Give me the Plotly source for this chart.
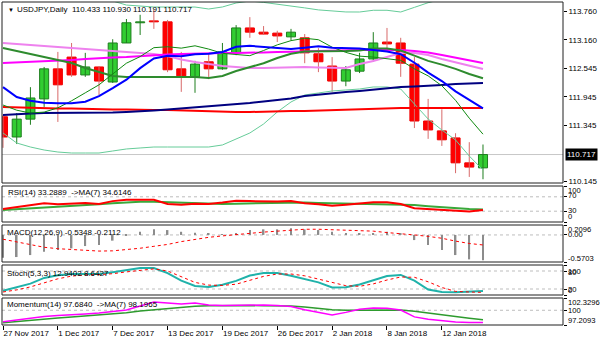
import plotly.graph_objects as go

# ---------------- data ----------------
bars = list(range(36))
tick_bars = [0, 4, 8, 12, 16, 20, 24, 28, 32]
tick_labels = ["27 Nov 2017", "1 Dec 2017", "7 Dec 2017", "13 Dec 2017", "19 Dec 2017",
               "26 Dec 2017", "2 Jan 2018", "8 Jan 2018", "12 Jan 2018"]

opens = [111.52, 111.09, 111.47, 111.90, 112.54, 112.79, 112.41, 112.58, 112.26, 113.09,
         113.52, 113.56, 113.54, 112.54, 112.37, 112.69, 112.54, 112.88, 113.41, 113.32,
         113.30, 113.22, 113.20, 112.86, 112.60, 112.28, 112.49, 112.75, 113.11, 113.09,
         112.64, 111.43, 111.22, 111.07, 110.54, 110.433]
highs = [111.56, 111.60, 112.15, 112.58, 112.90, 113.09, 112.88, 112.60, 113.17, 113.60,
         113.69, 113.79, 113.58, 112.90, 112.71, 112.86, 113.09, 113.47, 113.64, 113.45,
         113.35, 113.39, 113.28, 112.98, 112.79, 112.60, 112.88, 113.32, 113.41, 113.20,
         112.79, 111.90, 111.68, 111.17, 110.98, 110.930]
lows = [110.86, 110.94, 111.35, 111.73, 111.41, 112.37, 112.37, 111.98, 112.24, 113.09,
        113.26, 113.39, 112.47, 112.05, 112.03, 112.32, 112.52, 112.83, 113.20, 113.26,
        113.11, 113.15, 112.66, 112.47, 112.05, 112.17, 112.45, 112.69, 112.94, 112.37,
        111.28, 111.05, 110.90, 110.32, 110.24, 110.191]
closes = [111.09, 111.47, 111.92, 112.54, 112.20, 112.41, 112.58, 112.28, 113.09, 113.52,
          113.54, 113.54, 112.52, 112.39, 112.64, 112.54, 112.90, 113.41, 113.32, 113.28,
          113.24, 113.32, 112.88, 112.69, 112.28, 112.52, 112.75, 113.09, 113.07, 112.66,
          111.43, 111.24, 111.03, 110.54, 110.45, 110.717]

ma_fast = [111.77, 111.66, 111.60, 111.62, 111.71, 111.86, 112.03, 112.20, 112.43, 112.66,
           112.80, 112.99, 113.01, 112.98, 113.03, 112.96, 112.87, 112.85, 112.82, 112.93,
           113.05, 113.14, 113.19, 113.16, 113.00, 112.89, 112.81, 112.79, 112.75, 112.72,
           112.54, 112.39, 112.18, 111.87, 111.49, 111.15]
ma_blue = [112.15, 111.94, 111.86, 111.82, 111.81, 111.81, 111.84, 111.96, 112.13, 112.31,
           112.555, 112.76, 112.82, 112.81, 112.85, 112.86, 112.90, 113.01, 113.03, 113.01,
           112.98, 112.96, 112.99, 113.02, 112.99, 112.98, 112.97, 112.94, 112.91, 112.85,
           112.67, 112.46, 112.28, 112.06, 111.88, 111.70]
ma_magenta = [112.664, 112.675, 112.686, 112.707, 112.717, 112.728, 112.749, 112.771, 112.781, 112.792,
              112.813, 112.834, 112.845, 112.856, 112.866, 112.877, 112.877, 112.877, 112.877, 112.888,
              112.898, 112.898, 112.909, 112.920, 112.930, 112.941, 112.941, 112.941, 112.941, 112.941,
              112.920, 112.888, 112.834, 112.781, 112.728, 112.664]
ma_violet = [113.090, 113.069, 113.047, 113.026, 113.005, 112.983, 112.962, 112.941, 112.920, 112.898,
             112.877, 112.856, 112.813, 112.739, 112.686, 112.643, 112.600, 112.579, 112.558, 112.558,
             112.569, 112.579, 112.579, 112.569, 112.558, 112.558, 112.643, 112.707, 112.792, 112.877,
             112.877, 112.834, 112.749, 112.675, 112.600, 112.537]
ma_red = [111.728, 111.717, 111.707, 111.707, 111.696, 111.696, 111.686, 111.686, 111.675, 111.675,
          111.664, 111.664, 111.664, 111.654, 111.643, 111.643, 111.632, 111.622, 111.622, 111.632,
          111.632, 111.643, 111.643, 111.654, 111.664, 111.664, 111.686, 111.686, 111.707, 111.707,
          111.707, 111.707, 111.707, 111.707, 111.707, 111.707]
ma_navy = [111.558, 111.579, 111.590, 111.601, 111.601, 111.601, 111.601, 111.601, 111.611, 111.622,
           111.632, 111.654, 111.675, 111.696, 111.717, 111.739, 111.771, 111.792, 111.813, 111.845,
           111.877, 111.909, 111.962, 111.994, 112.026, 112.047, 112.069, 112.100, 112.132, 112.154,
           112.164, 112.175, 112.196, 112.217, 112.228, 112.239]
bb_mid = [112.983, 112.920, 112.856, 112.792, 112.728, 112.664, 112.558, 112.473, 112.388, 112.366,
          112.366, 112.366, 112.366, 112.366, 112.366, 112.345, 112.388, 112.494, 112.579, 112.66,
          112.77, 112.86, 112.91, 112.91, 112.92, 112.92, 112.93, 112.97, 112.97, 112.93,
          112.82, 112.71, 112.63, 112.54, 112.43, 112.34]
bb_low = [111.175, 110.962, 110.877, 110.813, 110.770, 110.749, 110.749, 110.749, 110.792, 110.835,
          110.856, 110.877, 110.877, 110.877, 110.877, 110.877, 110.920, 111.047, 111.175, 111.366,
          111.622, 111.835, 111.983, 112.026, 112.069, 112.090, 112.111, 112.154, 112.154, 112.111,
          111.792, 111.473, 111.239, 111.026, 110.685, 110.388]
bb_up = [114.791, 114.878, 114.835, 114.771, 114.686, 114.579, 114.367, 114.197, 113.984, 113.897,
         113.876, 113.855, 113.855, 113.855, 113.855, 113.813, 113.856, 113.941, 113.983, 113.954,
         113.918, 113.885, 113.837, 113.794, 113.771, 113.750, 113.749, 113.786, 113.786, 113.749,
         113.848, 113.947, 114.021, 114.054, 114.175, 114.292]

rsi = [36, 41, 46, 52, 49, 51, 53, 50, 58, 62, 62, 62, 50, 48, 51, 50, 54, 59, 58, 57,
       57, 58, 52, 49, 45, 48, 51, 55, 55, 50, 38, 36, 34, 30, 29, 33.2889]
rsi_ma = [33, 35, 37, 40, 42, 44, 46, 49, 52, 55, 56, 56, 55, 53, 51, 50, 50, 51, 52, 53,
          54, 55, 54, 53, 52, 51, 50, 50, 50, 49, 47, 44, 41, 38, 36, 34.6146]

macd = [-0.48, -0.466, -0.424, -0.354, -0.318, -0.283, -0.234, -0.213, -0.12, -0.01,
        0.067, 0.118, 0.103, 0.067, 0.046, 0.02, 0.01, 0.03, 0.103, 0.118,
        0.118, 0.139, 0.118, 0.103, 0.067, 0.04, 0.03, 0.04, 0.067, 0.02,
        -0.108, -0.213, -0.318, -0.424, -0.515, -0.5348]
macd_sig = [-0.09, -0.15, -0.21, -0.26, -0.29, -0.31, -0.33, -0.34, -0.335, -0.31,
            -0.28, -0.24, -0.20, -0.14, -0.09, -0.05, -0.02, 0.01, 0.03, 0.06,
            0.08, 0.10, 0.12, 0.12, 0.11, 0.10, 0.09, 0.08, 0.05, 0.03,
            0.0, -0.03, -0.07, -0.13, -0.18, -0.2112]

stoch = [14, 25, 38, 57, 66, 70, 70, 70, 76, 84, 90, 90, 73, 48, 30, 27, 34, 47, 65, 73,
         73, 64, 54, 42, 25, 26, 35, 50, 63, 67, 48, 18, 10, 9, 10, 12.9402]
stoch_sig = [10, 17, 27, 40, 54, 63, 67, 68, 71, 77, 83, 87, 80, 60, 42, 33, 32, 36, 48, 62,
             70, 70, 64, 53, 40, 31, 29, 37, 50, 60, 59, 44, 25, 12, 10, 8.6427]

mom = [97.84, 98.2, 98.54, 98.8, 99.0, 99.1, 99.3, 99.49, 99.7, 100.05,
       100.8, 101.57, 101.4, 101.2, 101.39, 101.0, 100.9, 100.95, 101.0, 101.0,
       100.9, 100.7, 100.1, 99.6, 99.1, 99.6, 100.2, 100.45, 100.4, 100.05,
       98.75, 98.3, 98.0, 97.8, 97.7, 97.684]
mom_ma = [97.65, 97.9, 98.16, 98.35, 98.55, 98.73, 98.9, 99.1, 99.3, 99.55,
          99.85, 100.1, 100.35, 100.6, 100.75, 100.85, 100.9, 100.95, 100.9, 100.85,
          100.85, 100.8, 100.6, 100.35, 100.1, 100.0, 100.0, 100.05, 100.1, 100.05,
          99.8, 99.45, 99.1, 98.8, 98.5, 98.1965]

price_ticks = [113.760, 113.160, 112.545, 111.945, 111.345, 110.145]
last_price = 110.717

# ---------------- layout helpers ----------------
W, H = 600, 343
ML, MR, MT, MB = 2, 37, 2, 18
PW, PH = W - ML - MR, H - MT - MB


def py(p):
    return (H - MB - p) / PH


FONT = "Liberation Sans, Arial, sans-serif"
dom_main = [py(183), py(2)]
dom_rsi = [py(222), py(186)]
dom_macd = [py(262), py(225)]
dom_sto = [py(295), py(265)]
dom_mom = [0.0, py(298)]

fig = go.Figure()

up = [c >= o for o, c in zip(opens, closes)]


def wick(flag):
    xs, ys = [], []
    for i in bars:
        if up[i] == flag:
            xs += [i, i, None]
            ys += [lows[i], highs[i], None]
    return xs, ys


for flag, col in [(True, "#1E7E1E"), (False, "#D86A6A")]:
    xs, ys = wick(flag)
    fig.add_trace(go.Scatter(x=xs, y=ys, mode="lines", line=dict(color=col, width=1),
                             yaxis="y", hoverinfo="skip", showlegend=False))

for flag, fill, edge in [(True, "#32CD32", "#1E7E1E"), (False, "#FF0000", "#F00000")]:
    sel = [i for i in bars if up[i] == flag]
    fig.add_trace(go.Bar(x=sel,
                         base=[min(opens[i], closes[i]) for i in sel],
                         y=[abs(closes[i] - opens[i]) for i in sel],
                         width=0.66, marker=dict(color=fill, line=dict(color=edge, width=1)),
                         yaxis="y", hoverinfo="skip", showlegend=False))


def line(y, color, width, axis="y", dash=None):
    fig.add_trace(go.Scatter(x=bars, y=y, mode="lines",
                             line=dict(color=color, width=width, dash=dash),
                             yaxis=axis, hoverinfo="skip", showlegend=False))


line(bb_up, "#66CC99", 1)
line(bb_low, "#66CC99", 1)
line(ma_red, "#FF0000", 2)
line(ma_navy, "#000080", 2)
line(ma_violet, "#EE82EE", 2)
line(ma_magenta, "#FF00FF", 2)
line(bb_mid, "#2E8B2E", 2)
line(ma_fast, "#108A10", 1)
line(ma_blue, "#0000FF", 2)

# RSI
line(rsi_ma, "#3AA83A", 2, "y2")
line(rsi, "#FF0000", 2, "y2")

# MACD
fig.add_trace(go.Bar(x=bars, y=macd, width=0.12, marker=dict(color="#8C8C8C", line=dict(width=0)),
                     yaxis="y3", hoverinfo="skip", showlegend=False))
line(macd_sig, "#FF0000", 1, "y3", "dot")

# Stochastic
line(stoch, "#20B2AA", 2, "y4")
line(stoch_sig, "#FF0000", 1, "y4", "dot")

# Momentum
line(mom_ma, "#2E9B2E", 1.5, "y5")
line(mom, "#FF00FF", 1.5, "y5")

# ---------------- shapes ----------------
shapes = []
for axis, lv in [("y2", 70), ("y2", 30), ("y3", 0), ("y4", 80), ("y4", 20), ("y5", 100)]:
    shapes.append(dict(type="line", xref="paper", x0=0, x1=1, yref=axis, y0=lv, y1=lv,
                       line=dict(color="#BDBDBD", width=1, dash="dot"), layer="below"))
shapes.append(dict(type="line", xref="paper", x0=0, x1=1, yref="y", y0=last_price, y1=last_price,
                   line=dict(color="#C8C8C8", width=1), layer="below"))
for d in [dom_main, dom_rsi, dom_macd, dom_sto, dom_mom]:
    shapes.append(dict(type="rect", xref="paper", yref="paper", x0=0, x1=1, y0=d[0], y1=d[1],
                       line=dict(color="#202020", width=1)))

# ---------------- annotations ----------------
ann = []


def text(t, xpix, ypix, size=8, anchor="left", **kw):
    ann.append(dict(text=t, xref="paper", yref="paper", x=(xpix - ML) / PW, y=py(ypix),
                    xanchor=anchor, yanchor="middle", showarrow=False,
                    font=dict(family=FONT, size=size, color="#000000"), **kw))


text("\u25BC", 6, 9.5, size=6)
text("USDJPY,Daily\u00a0\u00a0110.433 110.930 110.191 110.717", 15, 9)
text("RSI(14) 33.2889\u00a0\u00a0->MA(7) 34.6146", 6, 193)
text("MACD(12,26,9) -0.5348 -0.2112", 5, 232)
text("Stoch(5,3,3) 12.9402 8.6427", 5, 273)
text("Momentum(14) 97.6840\u00a0\u00a0->MA(7) 98.1965", 5, 304)

right_labels = [("100", 190), ("70", 195), ("30", 210), ("0", 216),
                ("0.2096", 229.5), ("0.00", 234.5), ("-0.5703", 258),
                ("100", 271), ("80", 272.5), ("20", 289), ("0", 290.5),
                ("102.3296", 302), ("100", 310.5), ("97.2093", 320)]
for t, yp in right_labels:
    text(t, 566, yp, size=7.6)

ann.append(dict(text="110.717", xref="paper", yref="y", x=1, y=last_price, xanchor="left",
                yanchor="middle", xshift=2, showarrow=False, bgcolor="#000000", borderpad=1,
                font=dict(family=FONT, size=8, color="#FFFFFF")))

# ---------------- axes ----------------
common_y = dict(side="right", anchor="x", showgrid=False, zeroline=False, showline=False,
                ticks="outside", ticklen=3, tickcolor="#000000", fixedrange=True)

fig.update_layout(
    width=W, height=H, margin=dict(l=ML, r=MR, t=MT, b=MB),
    paper_bgcolor="#FFFFFF", plot_bgcolor="#FFFFFF",
    barmode="overlay", showlegend=False,
    font=dict(family=FONT, size=8, color="#000000"),
    xaxis=dict(range=[-0.073, 40.834], anchor="y5", showgrid=False, zeroline=False,
               showline=False, tickvals=tick_bars, ticktext=tick_labels, tickangle=0,
               ticks="outside", ticklen=4, tickcolor="#000000",
               ticklabelposition="outside right", tickfont=dict(size=8), fixedrange=True),
    yaxis=dict(domain=dom_main, range=[110.111, 113.962], tickvals=price_ticks,
               ticktext=["%.3f" % v for v in price_ticks], tickfont=dict(size=8), **common_y),
    yaxis2=dict(domain=dom_rsi, range=[0, 100], tickvals=[100, 70, 30, 0],
                showticklabels=False, **common_y),
    yaxis3=dict(domain=dom_macd, range=[-0.5703, 0.2096], tickvals=[0.2096, 0, -0.5703],
                showticklabels=False, **common_y),
    yaxis4=dict(domain=dom_sto, range=[0, 100], tickvals=[100, 80, 20, 0],
                showticklabels=False, **common_y),
    yaxis5=dict(domain=dom_mom, range=[97.2093, 102.3296], tickvals=[102.3296, 100, 97.2093],
                showticklabels=False, **common_y),
    shapes=shapes, annotations=ann,
)

fig.write_html("out.html")
